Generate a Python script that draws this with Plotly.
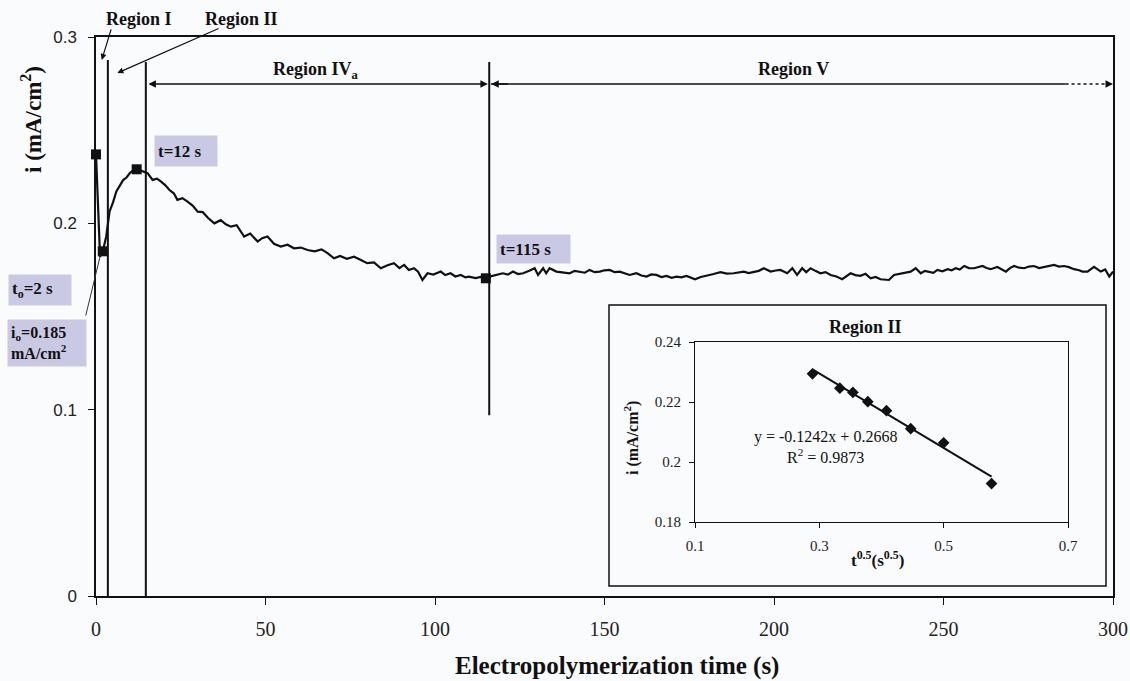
import plotly.graph_objects as go

# ---------------- data ----------------
t_main = [0, 1.2, 2, 3, 4, 5, 6, 7, 8, 9, 10, 11, 12, 13, 14, 15.2, 16.7, 18, 19.2, 20.4, 21.6, 23, 24, 25.5, 27, 28.5,
          30, 31.5, 33, 34.9, 36.8, 38.3, 39.8, 41.5, 43.7, 45.5, 47.7, 49, 50.6, 52.5, 54.5, 56.5, 58.4, 60.4, 62.4,
          64.5, 66.5, 68.3, 70.2, 72, 74, 76.1, 78, 80, 82, 84, 86, 87.9, 89.5, 90.9, 92.3, 93.8, 95, 96.3, 97.8,
          99.5, 101.7, 103, 104.6, 106, 107.6, 109, 110, 112, 113.5, 115,
          116.1, 118, 120, 121.5, 123, 124.5, 126, 127.8, 129.4, 130.4, 131.9, 132.8, 133.8, 135.8, 137.8, 139.7,
          141.2, 142.7, 144.2, 145.6, 147.1, 148.6, 150, 151.5, 153, 154.5, 156, 157.4, 159.4, 160.9, 162.4, 163.8,
          165.3, 166.8, 168.3, 169.8, 171.2, 172.7, 174.2, 176.7, 178.4, 180.1, 182.2, 184.2, 186.1, 188.1, 189.6,
          191.1, 192.5, 194, 195.5, 197, 199, 200.5, 201.9, 203.9, 205.4, 206.8, 208.3, 209.5, 210.8, 212.2, 213.7,
          215.2, 216.7, 218.4, 220.1, 222.6, 224, 225.5, 227, 228.5, 230, 231.4, 233.9, 235.4, 236.9, 238.3, 240.3,
          241.8, 243.3, 244.5, 245.7, 247, 248.2, 249.7, 251.2, 252.4, 253.6, 254.8, 256.1, 257.5, 259, 260.2, 261.5,
          262.7, 263.9, 265.9, 267.2, 268.4, 269.6, 270.8, 272.3, 273.8, 275.2, 276.7, 278.2, 279.7, 281.2, 282.6,
          284.1, 285.6, 287, 288.5, 290, 291, 292.5, 294.4, 296.4, 297.7, 298.9, 300]
i_main = [0.237, 0.182, 0.185, 0.1928, 0.2064, 0.2111, 0.2171, 0.2201, 0.2232, 0.2246, 0.2270, 0.2285, 0.2294, 0.2285,
          0.2278, 0.2269, 0.2233, 0.2240, 0.2224, 0.2205, 0.2180, 0.2160, 0.2126, 0.2135, 0.2117, 0.2095,
          0.2063, 0.2060, 0.2030, 0.2000, 0.2017, 0.1995, 0.1982, 0.1990, 0.1929, 0.1945, 0.1902, 0.1920, 0.1929,
          0.1890, 0.1875, 0.1885, 0.1866, 0.1870, 0.1857, 0.1850, 0.1860, 0.1840, 0.1812, 0.1825, 0.1810, 0.1821,
          0.1805, 0.1786, 0.1790, 0.1759, 0.1775, 0.1786, 0.1760, 0.1777, 0.1750, 0.1759, 0.1740, 0.1696, 0.1732,
          0.1725, 0.1741, 0.1722, 0.1732, 0.1715, 0.1723, 0.1710, 0.1714, 0.1706, 0.1712, 0.1705,
          0.1714, 0.1722, 0.1732, 0.1725, 0.1741, 0.1728, 0.1732, 0.1745, 0.1759, 0.1723, 0.1759, 0.1732, 0.1759,
          0.1741, 0.1736, 0.1732, 0.1745, 0.1741, 0.1735, 0.1750, 0.1738, 0.1741, 0.1748, 0.1750, 0.1738, 0.1741,
          0.1733, 0.1723, 0.1732, 0.1720, 0.1714, 0.1726, 0.1723, 0.1712, 0.1718, 0.1708, 0.1714, 0.1710, 0.1718,
          0.1700, 0.1712, 0.1718, 0.1728, 0.1738, 0.1730, 0.1732, 0.1738, 0.1741, 0.1733, 0.1738, 0.1745, 0.1759,
          0.1741, 0.1747, 0.1750, 0.1732, 0.1759, 0.1723, 0.1759, 0.1738, 0.1759, 0.1745, 0.1732, 0.1738, 0.1723,
          0.1715, 0.1700, 0.1732, 0.1722, 0.1718, 0.1729, 0.1705, 0.1712, 0.1700, 0.1696, 0.1723, 0.1728, 0.1735,
          0.1741, 0.1759, 0.1732, 0.1745, 0.1741, 0.1734, 0.1750, 0.1743, 0.1754, 0.1748, 0.1759, 0.1752, 0.1771,
          0.1760, 0.1759, 0.1766, 0.1771, 0.1760, 0.1754, 0.1766, 0.1755, 0.1741, 0.1760, 0.1771, 0.1762, 0.1759,
          0.1768, 0.1771, 0.1760, 0.1766, 0.1770, 0.1777, 0.1768, 0.1771, 0.1765, 0.1754, 0.1748, 0.1741, 0.1741,
          0.1766, 0.1741, 0.1752, 0.1714, 0.1741]

t_mark = [0, 2, 12, 115]
i_mark = [0.237, 0.185, 0.229, 0.1705]

inset_x = [0.289, 0.333, 0.354, 0.378, 0.408, 0.447, 0.500, 0.577]
inset_y = [0.2294, 0.2246, 0.2232, 0.2201, 0.2171, 0.2111, 0.2064, 0.1928]
fit_slope = -0.1242
fit_intercept = 0.2668

x_ticks = [0, 50, 100, 150, 200, 250, 300]
y_ticks = [0, 0.1, 0.2, 0.3]
y_ticktext = ["0", "0.1", "0.2", "0.3"]
inset_xticks = [0.1, 0.3, 0.5, 0.7]
inset_xticktext = ["0.1", "0.3", "0.5", "0.7"]
inset_yticks = [0.18, 0.20, 0.22, 0.24]
inset_yticktext = ["0.18", "0.2", "0.22", "0.24"]

region_lines_t = [3.5, 14.7, 116]
region_line_top = [0.2877, 0.2866, 0.2866]
region_line_bottom = [0, 0, 0.097]
arrow_level = 0.2748

W, H = 1130, 681
SERIF = "Liberation Serif"
SANS = "Liberation Sans"
BG = "#fafbfc"
LAV = "#c9c9e3"


def px(x):
    return x / W


def py(y):
    return 1 - y / H


fig = go.Figure()

fig.add_trace(go.Scatter(x=t_main, y=i_main, mode="lines",
                         line=dict(color="#111111", width=2.2), xaxis="x", yaxis="y",
                         showlegend=False, hoverinfo="skip"))
fig.add_trace(go.Scatter(x=t_mark, y=i_mark, mode="markers",
                         marker=dict(symbol="square", size=10, color="#111111"),
                         xaxis="x", yaxis="y", showlegend=False, cliponaxis=False))

fit_x = [inset_x[0], inset_x[-1]]
fit_y = [fit_slope * v + fit_intercept for v in fit_x]
fig.add_trace(go.Scatter(x=fit_x, y=fit_y, mode="lines", line=dict(color="#111111", width=2),
                         xaxis="x2", yaxis="y2", showlegend=False))
fig.add_trace(go.Scatter(x=inset_x, y=inset_y, mode="markers",
                         marker=dict(symbol="diamond", size=9, color="#111111"),
                         xaxis="x2", yaxis="y2", showlegend=False))

shapes = []
for t, top, bot in zip(region_lines_t, region_line_top, region_line_bottom):
    shapes.append(dict(type="line", xref="x", yref="y", x0=t, x1=t, y0=bot, y1=top,
                       line=dict(color="#111111", width=2)))
# Region V arrow body (solid then dotted)
shapes.append(dict(type="line", xref="x", yref="y", x0=116.5, x1=286, y0=arrow_level, y1=arrow_level,
                   line=dict(color="#111111", width=1.5)))
shapes.append(dict(type="line", xref="x", yref="y", x0=286, x1=298, y0=arrow_level, y1=arrow_level,
                   line=dict(color="#111111", width=1.5, dash="dot")))
# inset frame
shapes.append(dict(type="rect", xref="paper", yref="paper", x0=px(609), x1=px(1106), y0=py(586), y1=py(305),
                   line=dict(color="#111111", width=1.5), fillcolor=BG, layer="below"))

ann = []
# arrows
ann.append(dict(x=1.7, y=0.2877, ax=4.6, ay=0.3049, xref="x", yref="y", axref="x", ayref="y",
                text="", showarrow=True, arrowhead=2, arrowsize=1, arrowwidth=1.2, arrowcolor="#111111"))
ann.append(dict(x=6.3, y=0.2807, ax=36.6, ay=0.3049, xref="x", yref="y", axref="x", ayref="y",
                text="", showarrow=True, arrowhead=2, arrowsize=1, arrowwidth=1.2, arrowcolor="#111111"))
ann.append(dict(x=115.6, y=arrow_level, ax=15.0, ay=arrow_level, xref="x", yref="y", axref="x", ayref="y",
                text="", showarrow=True, arrowhead=2, arrowside="end+start", arrowsize=1, arrowwidth=1.5,
                arrowcolor="#111111"))
ann.append(dict(x=116.6, y=arrow_level, ax=122, ay=arrow_level, xref="x", yref="y", axref="x", ayref="y",
                text="", showarrow=True, arrowhead=2, arrowsize=1, arrowwidth=1.5, arrowcolor="#111111"))
ann.append(dict(x=300, y=arrow_level, ax=298, ay=arrow_level, xref="x", yref="y", axref="x", ayref="y",
                text="", showarrow=True, arrowhead=2, arrowsize=1, arrowwidth=1.5, arrowcolor="#111111"))
# i0 pointer line
ann.append(dict(x=1.3, y=0.183, ax=-15, ay=62, xref="x", yref="y",
                text="", showarrow=True, arrowhead=0, arrowwidth=1, arrowcolor="#333333"))


def label(x, y, text, size=16, bold=True, font=SERIF, **kw):
    d = dict(x=px(x), y=py(y), xref="paper", yref="paper", text=("<b>%s</b>" % text) if bold else text,
             showarrow=False, font=dict(family=font, size=size, color="#111111"),
             xanchor="center", yanchor="middle")
    d.update(kw)
    ann.append(d)


label(139, 19, "Region I", 18)
label(241, 19, "Region II", 18)
label(316, 70, "Region IV<sub>a</sub>", 18)
label(793, 69, "Region V", 18)
label(617, 666, "Electropolymerization time (s)", 25)
label(31, 120, "i (mA/cm<sup>2</sup>)", 23, textangle=-90)


def boxlabel(cx, cy, w, h, text, size=17):
    ann.append(dict(x=px(cx), y=py(cy), xref="paper", yref="paper", text="<b>%s</b>" % text,
                    showarrow=False, font=dict(family=SERIF, size=size, color="#111111"),
                    xanchor="center", yanchor="middle", align="left", valign="middle",
                    width=w - 6, height=h - 6, borderpad=3, bgcolor=LAV))


boxlabel(186, 151, 62, 30, "t=12 s")
boxlabel(40, 290, 62, 30, "t<sub>o</sub>=2 s")
boxlabel(47, 343, 78, 46, "i<sub>o</sub>=0.185<br>mA/cm<sup>2</sup>", 16)
boxlabel(533, 249, 73, 28, "t=115 s")

# inset texts
label(865, 327, "Region II", 18)
label(631, 438, "i (mA/cm<sup>2</sup>)", 16, textangle=-90)
label(877, 559, "t<sup>0.5</sup>(s<sup>0.5</sup>)", 17)
label(825, 437, "y = -0.1242x + 0.2668", 16, bold=False)
label(825, 456, "R<sup>2</sup> = 0.9873", 16, bold=False)

fig.update_layout(
    template="none",
    width=W, height=H, margin=dict(l=0, r=0, t=0, b=0, autoexpand=False),
    paper_bgcolor=BG, plot_bgcolor="rgba(0,0,0,0)",
    showlegend=False,
    shapes=shapes, annotations=ann,
    xaxis=dict(domain=[px(96), px(1113)], range=[0, 300], tickvals=x_ticks, automargin=False,
               showline=True, mirror=True, linecolor="#111111", linewidth=1.5,
               ticks="outside", ticklen=7, tickwidth=1.2, tickcolor="#111111",
               showgrid=False, zeroline=False, ticklabelstandoff=7,
               tickfont=dict(family=SERIF, size=20, color="#222222"), anchor="y"),
    yaxis=dict(domain=[py(596), py(37)], range=[0, 0.3], tickvals=y_ticks, ticktext=y_ticktext, automargin=False,
               showline=True, mirror=True, linecolor="#111111", linewidth=1.5,
               ticks="outside", ticklen=6, tickwidth=1.2, tickcolor="#111111",
               showgrid=False, zeroline=False, ticklabelstandoff=8,
               tickfont=dict(family=SANS, size=17, color="#222222"), anchor="x"),
    xaxis2=dict(domain=[px(695), px(1068)], range=[0.1, 0.7], tickvals=inset_xticks, ticktext=inset_xticktext,
                automargin=False,
                showline=True, mirror=True, linecolor="#111111", linewidth=1.2,
                ticks="outside", ticklen=5, tickcolor="#111111",
                showgrid=False, zeroline=False, ticklabelstandoff=5,
                tickfont=dict(family=SERIF, size=15, color="#222222"), anchor="y2"),
    yaxis2=dict(domain=[py(522), py(342)], range=[0.18, 0.24], tickvals=inset_yticks, ticktext=inset_yticktext,
                automargin=False,
                showline=True, mirror=True, linecolor="#111111", linewidth=1.2,
                ticks="outside", ticklen=5, tickcolor="#111111",
                showgrid=False, zeroline=False, ticklabelstandoff=5,
                tickfont=dict(family=SERIF, size=15, color="#222222"), anchor="x2"),
)

fig.write_html("out.html")
